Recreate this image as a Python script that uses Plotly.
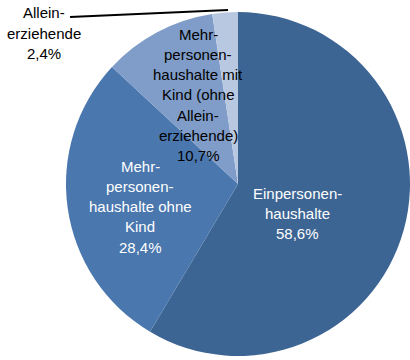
import plotly.graph_objects as go

categories = [["Einpersonen-", "haushalte"],
              ["Mehr-", "personen-", "haushalte ohne", "Kind"],
              ["Mehr-", "personen-", "haushalte mit", "Kind (ohne", "Allein-", "erziehende)"],
              ["Allein-", "erziehende"]]
values = [58.6, 28.4, 10.7, 2.4]
value_labels = ["58,6%", "28,4%", "10,7%", "2,4%"]
colors = ["#3d6593", "#4a77ae", "#7f9dc8", "#b9c8e1"]

W, H = 410, 360
def px(x, y):
    return x / W, 1 - y / H

fig = go.Figure(go.Pie(
    values=values, labels=[" ".join(c) for c in categories],
    sort=False, direction="clockwise", rotation=0,
    marker=dict(colors=colors, line=dict(width=0)),
    textinfo="none", hoverinfo="label+value", showlegend=False,
    domain=dict(x=[66 / W, 1], y=[4 / H, 348 / H]),
))

font = "Liberation Sans, Arial, sans-serif"
# (center x, y of first line, colour)
label_pos = [(297, 193, "white"), (140, 166, "white"), (198, 34, "black"), (44, 13, "black")]
LS = 20.3
for cat, vl, (x, y0, col) in zip(categories, value_labels, label_pos):
    for i, line in enumerate(cat + [vl]):
        ax, ay = px(x, y0 + i * LS)
        fig.add_annotation(x=ax, y=ay, xref="paper", yref="paper", showarrow=False,
                           text=line, font=dict(family=font, size=15, color=col),
                           xanchor="center", yanchor="middle")

x0, y0 = px(70, 17)
x1, y1 = px(228, 10)
fig.add_shape(type="line", xref="paper", yref="paper", x0=x0, y0=y0, x1=x1, y1=y1,
              line=dict(color="black", width=2))

fig.update_layout(width=W, height=H, margin=dict(l=0, r=0, t=0, b=0),
                  paper_bgcolor="white", plot_bgcolor="white")
fig.write_html("out.html", config={"displayModeBar": False},
               post_script="document.body.style.margin='0';document.body.style.overflow='hidden';")
